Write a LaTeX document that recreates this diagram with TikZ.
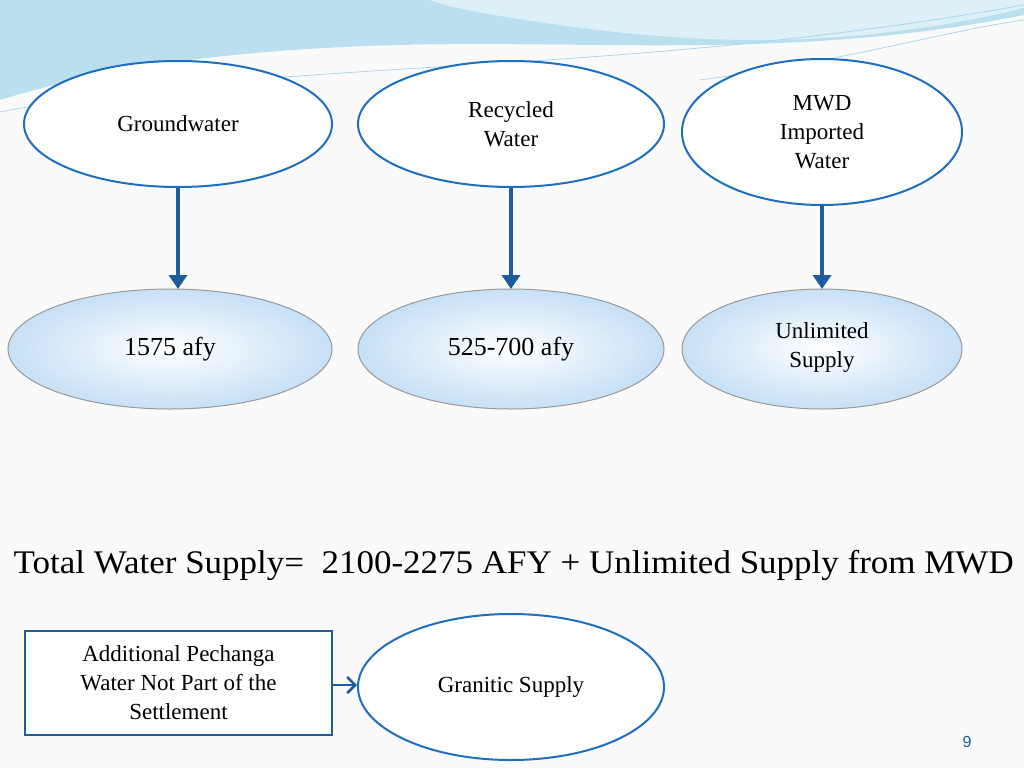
\documentclass[tikz,border=0pt]{standalone}
\usepackage{fontspec}
\setmainfont{Liberation Serif}
\begin{document}
\begin{tikzpicture}[x=1pt,y=-1pt,
  ell/.style={draw=lineblue,line width=2pt,ellipse,fill=white},
  bell/.style={ellipse,draw=gray!80,line width=1pt,inner color=white,outer color=fillblue},
  arr/.style={draw=arrblue,line width=3.5pt,-{Triangle[length=14pt,width=18pt]}},
  lab/.style={font=\fontsize{23}{29}\selectfont,align=center,text=black}]
\usetikzlibrary{shapes.geometric,arrows.meta}
\definecolor{lineblue}{HTML}{1E6FBF}
\definecolor{arrblue}{HTML}{1D5C9E}
\definecolor{fillblue}{HTML}{C6E0F6}
\definecolor{bgtop}{HTML}{A9D8EC}
\fill[white!96!gray] (0,0) rectangle (1024,768);
\useasboundingbox (0,0) rectangle (1024,768);
% top decoration
\fill[bgtop!80!white] (0,0) -- (1024,0) -- (1024,15) .. controls (800,60) and (600,40) .. (400,45) .. controls (200,50) and (80,75) .. (0,100) -- cycle;
\fill[bgtop!40!white] (430,0) -- (1024,0) -- (1024,8) .. controls (850,50) and (700,45) .. (560,25) .. controls (490,15) and (450,8) .. (430,0) -- cycle;
\draw[bgtop,line width=0.8pt] (0,112) .. controls (300,55) and (600,80) .. (1024,5);
\draw[bgtop,line width=0.8pt] (700,80) .. controls (850,60) and (950,30) .. (1024,20);
% top ellipses
\node[ell,minimum width=308pt,minimum height=126pt] (g) at (178,124) {};
\node[lab] at (178,124) {Groundwater};
\node[ell,minimum width=306pt,minimum height=126pt] (r) at (511,124) {};
\node[lab] at (511,124) {Recycled\\Water};
\node[ell,minimum width=280pt,minimum height=146pt] (m) at (822,132) {};
\node[lab] at (822,132) {MWD\\Imported\\Water};
% bottom ellipses
\node[bell,minimum width=324pt,minimum height=120pt] (g2) at (170,349) {};
\node[lab,font=\fontsize{26}{30}\selectfont] at (170,349) {1575 afy};
\node[bell,minimum width=306pt,minimum height=120pt] (r2) at (511,349) {};
\node[lab,font=\fontsize{26}{30}\selectfont] at (511,349) {525-700 afy};
\node[bell,minimum width=280pt,minimum height=120pt] (m2) at (822,349) {};
\node[lab] at (822,347) {Unlimited\\Supply};
\coordinate (ga) at (178,188); \coordinate (gb) at (178,289);
\coordinate (ra) at (511,188); \coordinate (rb) at (511,289);
\coordinate (ma) at (822,205); \coordinate (mb) at (822,289);
\draw[arr] (ga) -- (gb);
\draw[arr] (ra) -- (rb);
\draw[arr] (ma) -- (mb);
\node[font=\fontsize{33}{38}\selectfont,anchor=west,xscale=1.06] (t) at (10,565) {Total Water Supply=\ \ 2100-2275 AFY + Unlimited Supply from MWD};
\node[draw=arrblue,line width=2pt,fill=white,minimum width=307pt,minimum height=104pt,lab] (b) at (178.5,683) {Additional Pechanga\\Water Not Part of the\\Settlement};
\node[ell,minimum width=306pt,minimum height=146pt] (s) at (511,687) {};
\node[lab] at (511,687) {Granitic Supply};
\draw[draw=arrblue,line width=2.5pt,-{Straight Barb[length=8pt,width=16pt]}] (b.east |- 0,685) -- (s.west |- 0,685);
\node[font=\fontsize{16}{18}\selectfont\fontspec{Liberation Sans},text=arrblue] (n) at (967,742) {9};
\end{tikzpicture}
\end{document}
